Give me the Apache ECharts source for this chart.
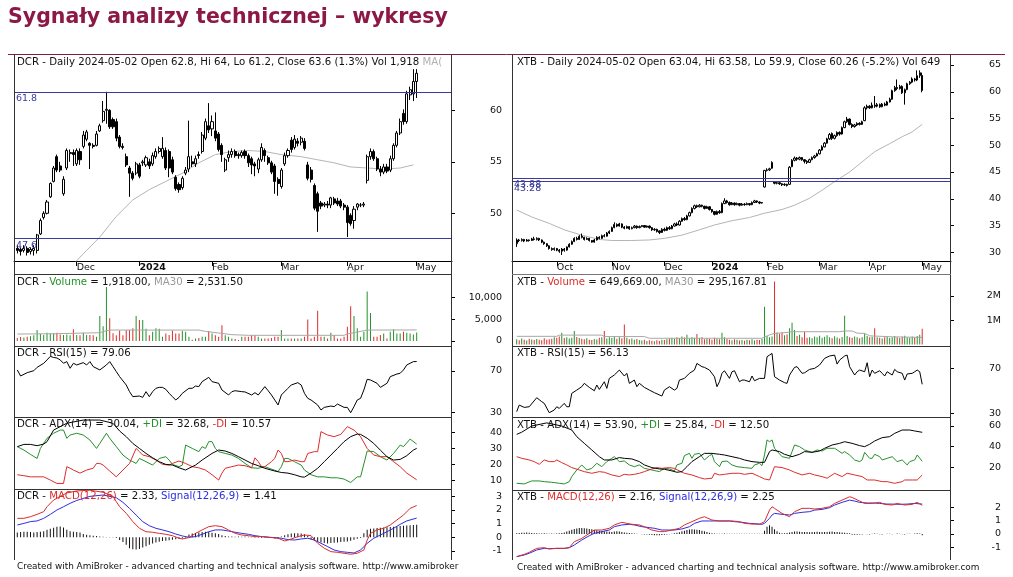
<!DOCTYPE html>
<html>
<head>
<meta charset="utf-8">
<title>Sygnały analizy technicznej – wykresy</title>
<script src="https://cdn.jsdelivr.net/npm/echarts@6.0.0/dist/echarts.min.js"></script>
<style>
html,body{margin:0;padding:0;background:#fff;}
#chart{width:1013px;height:577px;}
</style>
</head>
<body>
<div id="chart"></div>
<script>
// ---------- DCR (left chart) ----------
// candles: [open, close, low, high]
const dcrCandles = [
  [46.6,46.4,46.1,46.9],[46.5,46.3,45.9,46.7],[46.4,46.6,46.2,46.9],[46.6,46.2,45.9,46.8],[46.3,46.5,46.0,46.7],
  [46.4,46.6,45.9,46.9],[46.4,47.9,46.1,48.0],[48.0,49.3,47.9,49.5],[49.6,50.0,49.4,50.2],[50.0,51.1,49.9,51.3],
  [51.6,52.9,51.5,53.0],[53.1,54.4,53.0,54.6],[55.5,54.2,54.0,55.7],[54.6,54.2,54.0,55.0],[51.9,53.3,51.7,53.6],
  [54.4,56.1,54.2,56.3],[55.8,55.9,55.0,56.2],[55.9,55.7,54.6,56.2],[54.8,56.1,54.6,56.3],[56.0,55.2,54.7,56.3],
  [56.5,57.6,56.3,58.0],[57.2,57.9,57.0,58.1],[56.8,56.6,54.3,56.9],[56.6,56.5,56.3,56.8],[56.6,57.7,56.5,58.0],
  [58.0,58.5,57.9,58.7],[59.0,59.9,58.8,60.9],[60.0,60.1,58.7,61.8],[60.0,58.4,58.2,60.1],[59.1,58.4,58.2,59.3],
  [58.9,57.3,57.0,59.2],[57.4,56.5,56.3,57.6],[56.5,56.4,56.2,56.8],[55.5,54.7,54.5,55.8],[54.4,53.9,51.6,54.6],
  [53.9,53.4,53.2,54.1],[53.9,54.8,53.7,55.0],[54.7,53.6,53.4,54.9],[54.9,55.0,54.6,55.2],[54.7,55.4,54.5,55.6],
  [55.0,54.6,54.3,55.3],[54.8,55.6,54.6,55.9],[55.5,56.0,55.3,56.3],[56.0,56.3,55.8,56.5],[55.5,56.3,55.3,57.4],
  [56.1,54.4,54.2,56.4],[56.0,54.4,53.5,56.2],[55.2,54.0,53.8,55.5],[53.5,52.4,52.2,53.7],[52.8,52.3,52.0,53.0],
  [52.5,53.4,52.3,53.6],[53.9,54.2,53.7,54.5],[54.3,55.5,54.0,59.0],[55.0,54.8,54.5,55.6],[54.8,55.3,54.5,55.6],
  [55.7,55.6,55.3,56.0],[56.0,57.6,55.8,57.9],[57.3,58.9,57.1,59.2],[58.5,58.1,57.8,60.7],[58.2,58.9,57.5,59.5],
  [58.0,57.3,57.0,59.8],[57.7,56.2,56.0,57.9],[56.6,55.7,55.0,56.8],[54.2,55.2,54.0,55.4],[55.4,55.7,55.0,56.1],
  [55.7,56.0,55.4,56.3],[56.0,55.6,55.4,56.2],[55.7,55.6,55.3,55.9],[55.6,55.9,55.4,56.1],[56.0,55.6,55.3,56.2],
  [55.6,54.9,54.5,55.8],[55.3,54.7,53.8,55.5],[54.8,54.6,53.6,55.0],[54.3,55.2,53.9,55.4],[55.2,56.4,55.0,56.8],
  [56.1,55.6,55.0,56.3],[55.4,54.9,54.7,55.6],[54.9,54.0,53.8,55.1],[54.6,53.1,51.9,54.8],[53.3,52.9,51.7,53.5],
  [52.6,54.2,52.4,54.4],[54.8,55.6,54.6,55.9],[55.6,56.1,55.4,56.3],[57.1,56.2,55.9,57.4],[56.4,57.2,56.2,57.6],
  [57.0,56.8,56.5,57.3],[56.9,57.3,56.6,57.5],[57.0,56.3,56.1,57.3],[54.7,53.4,53.2,55.0],[54.2,53.3,53.0,54.5],
  [52.7,50.5,50.3,52.9],[51.9,50.2,48.2,52.1],[51.0,50.7,50.4,51.2],[50.8,50.9,50.6,51.1],[50.9,50.8,50.5,51.2],
  [50.8,51.5,50.5,51.6],[51.4,51.0,50.8,51.6],[51.2,50.9,50.7,51.5],[51.2,50.7,50.5,51.4],[50.8,50.6,50.3,51.0],
  [50.6,49.1,47.7,50.8],[49.8,49.0,48.8,50.0],[49.3,50.4,48.5,50.7],[50.6,50.9,50.3,51.0],[50.8,50.8,50.6,51.0],
  [50.8,50.9,50.6,51.1],[53.2,55.5,52.9,55.7],[55.5,56.0,55.2,56.3],[56.0,55.3,55.1,56.2],[55.3,54.3,54.1,55.5],
  [54.3,54.0,53.6,54.6],[54.0,54.5,53.8,54.8],[54.5,54.1,53.9,54.8],[54.2,55.3,54.0,55.6],[55.3,56.6,55.1,56.8],
  [56.6,57.8,56.4,58.0],[57.8,58.9,57.6,59.2],[59.7,58.9,58.6,60.1],[58.9,61.6,58.7,61.9],[61.5,62.0,61.0,62.3],
  [61.6,62.8,60.9,64.0],[62.8,63.6,61.2,64.0]
];
const dcrPriceMa = [[16,44.6],[18,45.4],[21,46.4],[25,47.7],[30,49.7],[35,51.3],[40,52.3],[45,53.1],[50,53.9],[55,54.9],
  [60,55.7],[65,56.0],[70,56.1],[75,56.0],[80,55.7],[86,55.5],[91,55.2],[96,54.9],[101,54.5],[106,54.4],[111,54.3],[116,54.4],[120,54.7]];
const dcrLevels = [61.8, 47.6];
const dcrVolume = [
  700,900,800,1000,1100,1300,2500,1600,1400,1900,
  1700,1800,1900,1500,1400,1500,1300,2700,1400,1300,
  1900,1400,1400,1300,1000,5700,3400,12350,5200,1800,
  1300,2400,1300,2500,2500,2900,5700,4800,4800,2800,
  1300,2100,2900,2800,1000,1700,1400,2400,1700,1700,
  2300,2100,1000,300,600,700,1000,1000,2300,1700,
  1300,1000,3600,1300,1000,600,450,250,1000,1000,
  1000,1300,1300,1000,600,600,600,700,1000,1000,
  2500,600,600,600,600,600,600,1000,4900,600,
  1000,6900,1000,1000,600,1900,1350,600,600,1000,
  3250,7950,5700,2900,1000,2100,11350,6400,1000,1000,
  1350,1700,600,2100,2700,1700,1700,2100,1900,1700,
  1500,1918
];
const dcrVolumeMa = [[0,1590],[10,1650],[25,1890],[27,2350],[28,2500],[55,2500],[57,2200],[65,1450],[70,1300],
  [99,1300],[100,1600],[105,2350],[106,2500],[121,2531.5]];
const dcrRsi = [[0,71.0],[1,65.2],[3,68.4],[5,70.3],[6,73.5],[8,77.4],[9,80.6],[10,84.0],[11,83.0],[12,82.5],[13,80.6],
  [14,77.4],[15,79.0],[16,72.6],[17,77.4],[18,75.8],[20,78.0],[21,75.8],[22,79.0],[23,74.2],[25,71.0],[27,75.8],[28,79.0],
  [29,74.2],[30,69.4],[31,64.6],[33,56.6],[34,50.2],[35,45.4],[37,46.0],[38,44.7],[39,50.2],[40,45.4],[41,50.2],[42,53.4],
  [43,54.3],[44,54.3],[45,52.4],[46,48.6],[47,45.4],[48,42.2],[49,44.7],[50,48.6],[52,53.4],[53,53.4],[54,55.6],[55,55.0],
  [56,59.8],[58,63.9],[59,59.8],[61,58.2],[62,51.8],[64,47.0],[65,50.2],[66,51.1],[68,50.2],[69,49.9],[71,47.0],[72,49.2],
  [73,47.0],[75,55.0],[76,51.1],[77,47.0],[78,42.2],[79,37.4],[80,47.0],[82,53.4],[83,56.6],[85,58.8],[86,56.6],[87,48.6],
  [88,43.8],[89,42.2],[91,37.4],[92,32.6],[93,35.1],[95,36.4],[96,35.8],[97,38.3],[99,35.1],[100,35.1],[101,30.0],[102,35.8],
  [103,42.2],[104,43.8],[105,51.8],[106,62.0],[107,61.4],[109,58.2],[110,54.3],[112,58.2],[113,64.6],[115,67.1],[116,67.8],
  [117,71.0],[118,75.8],[120,79.0],[121,79.06]];
const dcrAdx = [[0,31.1],[2,32.5],[4,32.5],[6,31.7],[8,32.7],[9,34.2],[11,41.4],[15,45.6],[20,47.6],[25,47.6],[29,45.6],
  [31,40.8],[33,37.3],[35,33.1],[37,30.0],[39,26.9],[41,24.2],[43,21.8],[45,20.1],[47,19.7],[49,18.0],[51,16.6],[52,17.7],
  [54,19.7],[56,22.8],[59,26.9],[61,29.0],[63,28.4],[65,26.9],[67,24.9],[69,22.8],[71,20.7],[73,19.3],[75,17.7],[78,16.0],
  [80,15.1],[82,14.7],[84,13.7],[86,12.4],[87,12.2],[89,14.7],[91,17.7],[93,21.8],[95,25.9],[97,30.0],[99,34.2],[101,37.3],
  [103,38.9],[104,38.7],[106,36.3],[108,33.1],[110,28.9],[112,24.9],[114,22.8],[116,23.2],[118,25.5],[120,29.0],[121,30.04]];
const dcrPlusDi = [[0,31.1],[2,29.0],[4,26.3],[6,23.8],[7,30.0],[9,36.3],[11,39.4],[13,41.4],[14,41.4],[15,36.3],[16,38.3],
  [18,39.4],[20,38.3],[22,35.2],[24,30.0],[25,33.1],[27,39.4],[28,36.3],[30,31.1],[32,25.9],[34,22.8],[35,21.8],[36,20.7],
  [37,23.8],[39,21.8],[41,19.7],[43,23.8],[45,24.9],[46,22.8],[47,20.1],[49,18.7],[50,19.7],[51,32.1],[53,30.0],[55,28.0],
  [56,31.1],[57,30.0],[58,34.2],[59,34.2],[60,30.0],[61,28.0],[63,26.9],[65,25.9],[67,23.8],[69,20.7],[71,18.0],[73,17.7],
  [75,18.7],[77,17.2],[79,15.7],[80,18.7],[81,23.8],[82,23.8],[83,22.8],[84,21.8],[85,20.7],[86,19.7],[87,16.6],[89,13.7],
  [91,12.4],[93,12.4],[95,11.8],[97,11.8],[99,11.0],[101,8.9],[103,12.4],[104,12.4],[106,28.4],[108,28.0],[110,24.9],
  [112,22.8],[114,26.9],[116,32.1],[117,31.1],[119,35.8],[121,32.68]];
const dcrMinusDi = [[0,13.7],[2,13.1],[4,12.4],[6,12.4],[8,12.4],[10,10.4],[12,8.3],[14,8.3],[15,18.7],[16,17.7],[17,16.6],
  [19,14.7],[21,16.6],[23,17.7],[24,20.7],[25,20.7],[26,19.7],[28,16.0],[30,12.4],[32,16.6],[34,20.7],[36,30.0],[37,28.0],
  [38,25.9],[40,24.9],[42,22.8],[44,20.1],[46,19.7],[47,20.7],[49,22.2],[51,20.7],[53,18.7],[55,18.0],[57,16.6],[59,13.7],
  [61,10.4],[62,14.7],[63,17.7],[65,18.7],[67,19.7],[69,19.3],[71,18.0],[72,24.2],[73,21.8],[74,18.7],[75,18.7],[77,21.8],
  [78,23.8],[79,29.0],[80,26.9],[81,21.8],[82,21.8],[84,22.8],[86,21.8],[87,21.8],[88,26.9],[90,28.0],[91,28.0],[92,40.4],
  [94,38.3],[96,37.3],[98,38.7],[100,43.5],[102,41.4],[104,37.3],[106,30.0],[108,25.9],[110,24.9],[112,24.9],[114,21.8],
  [116,18.7],[118,14.7],[121,10.57]];
const dcrMacd = [[0,1.39],[2,1.39],[4,1.51],[6,1.68],[8,1.88],[9,2.24],[11,2.73],[13,3.0],[15,3.25],[18,3.4],[22,3.45],
  [26,3.3],[29,3.0],[30,2.61],[31,2.24],[33,1.76],[35,1.15],[37,0.66],[39,0.41],[41,0.37],[43,0.29],[45,0.22],[47,0.12],
  [49,-0.07],[50,-0.12],[52,-0.02],[54,0.29],[56,0.54],[58,0.78],[60,0.85],[62,0.78],[64,0.54],[66,0.29],[68,0.17],[70,0.12],
  [72,0.05],[75,0.05],[77,-0.02],[79,-0.07],[81,-0.27],[83,-0.12],[85,0.05],[87,0.17],[89,0.12],[91,-0.44],[93,-0.8],
  [95,-1.05],[97,-1.1],[99,-1.17],[101,-1.24],[103,-1.17],[105,-0.93],[106,-0.2],[107,0.29],[109,0.54],[111,0.66],[113,0.9],
  [115,1.27],[117,1.63],[119,2.12],[121,2.33]];
const dcrSignal = [[0,0.9],[2,1.02],[4,1.15],[6,1.2],[8,1.39],[10,1.68],[12,2.0],[14,2.24],[16,2.49],[18,2.7],[22,3.0],
  [26,3.1],[30,2.9],[32,2.56],[34,2.12],[36,1.63],[38,1.15],[40,0.85],[42,0.66],[44,0.54],[46,0.41],[48,0.24],[50,0.1],
  [52,0.0],[54,0.05],[56,0.22],[58,0.41],[60,0.54],[62,0.54],[64,0.46],[66,0.37],[68,0.29],[70,0.22],[72,0.12],[74,0.05],
  [76,0.0],[78,-0.02],[80,-0.07],[82,-0.17],[84,-0.2],[86,-0.12],[88,-0.07],[90,-0.2],[92,-0.44],[94,-0.68],[96,-0.93],
  [98,-1.05],[100,-1.1],[102,-1.15],[104,-0.93],[106,-0.44],[108,-0.07],[110,0.17],[112,0.41],[114,0.66],[116,0.95],
  [118,1.2],[121,1.41]];
const dcrHist = [
  0.35,0.38,0.4,0.4,0.38,0.36,0.38,0.4,0.45,
  0.55,0.62,0.7,0.78,0.8,0.72,
  0.55,0.45,0.4,0.38,0.35,
  0.25,0.18,0.15,0.12,0.1,
  0.05,0.04,0.03,0.02,0.02,-0.05,
  -0.2,-0.35,-0.55,
  -0.8,-0.88,-0.9,-0.85,
  -0.75,-0.65,-0.55,-0.45,
  -0.38,-0.32,-0.28,-0.25,-0.22,-0.18,
  -0.15,-0.12,-0.08,-0.04,
  0.2,0.28,0.32,0.36,0.38,0.4,0.38,0.34,0.3,0.25,
  0.15,0.1,0.06,0.05,0.04,0.05,0.04,0.05,0.04,0.03,
  -0.03,-0.04,-0.05,-0.04,-0.05,-0.06,-0.08,-0.1,
  0.05,0.15,0.22,0.28,0.3,0.3,0.28,0.22,0.1,
  -0.15,-0.25,-0.32,-0.38,-0.42,-0.45,-0.42,-0.4,-0.38,-0.35,-0.32,-0.3,-0.25,-0.18,
  -0.1,-0.05,
  0.3,0.55,0.62,0.65,0.68,0.7,0.72,0.74,0.76,0.78,0.8,0.82,0.84,0.86,0.88,0.9,0.92
];
const dcrMonthTicks = [18, 37, 59, 80, 100, 121];
const dcrMonthLabels = ['Dec', '2024', 'Feb', 'Mar', 'Apr', 'May'];
const dcrPriceTicks = [50, 55, 60];
const dcrVolumeTicks = [0, 5000, 10000];
const dcrRsiTicks = [30, 70];
const dcrAdxTicks = [10, 20, 30, 40];
const dcrMacdTicks = [-1, 0, 1, 2, 3];

// ---------- XTB (right chart) ----------
const xtbCandles = [
  [31.6,32.3,31.0,32.6],[32.3,32.2,31.9,32.5],[32.2,32.4,32.0,32.6],[32.4,32.1,31.9,32.5],[32.1,32.3,32.0,32.5],
  [32.3,32.2,32.0,32.4],[32.2,32.5,32.1,32.7],[32.5,32.4,32.2,32.9],[32.4,32.6,32.2,32.8],[32.6,32.3,32.1,32.7],
  [32.3,31.9,31.7,32.4],[31.9,31.6,31.4,32.0],[31.6,31.2,31.0,31.7],[31.2,30.7,30.5,31.3],[30.7,30.5,30.3,30.9],
  [30.5,30.7,30.3,30.9],[30.7,30.4,30.2,30.8],[30.4,30.2,29.9,30.6],[30.2,30.6,29.5,30.8],[30.6,30.4,30.1,30.8],
  [30.4,31.0,30.3,31.1],[31.0,31.5,30.9,31.7],[31.5,32.0,31.4,32.2],[32.0,32.6,31.9,32.8],[32.6,32.4,32.2,32.9],
  [32.4,33.0,32.3,33.2],[33.0,32.8,32.6,33.5],[32.8,32.4,32.2,32.9],[32.4,32.6,32.3,32.8],[32.6,32.2,32.0,32.7],
  [32.2,31.9,31.8,32.3],[31.9,32.3,31.8,32.5],[32.3,32.8,32.2,33.0],[32.8,32.6,32.4,33.0],[32.6,33.1,32.5,33.3],
  [33.1,33.0,32.8,33.4],[33.0,33.6,32.9,33.8],[33.6,33.9,33.4,34.1],[33.9,34.6,33.8,34.8],[34.6,35.2,34.5,35.6],
  [35.2,34.9,34.7,35.4],[34.9,35.3,34.8,35.5],[35.3,34.7,34.5,35.4],[34.7,34.5,34.3,34.9],[34.5,34.8,34.4,35.0],
  [34.8,34.4,34.2,34.9],[34.4,34.6,34.3,34.8],[34.6,34.9,34.5,35.1],[34.9,34.6,34.4,35.0],[34.6,34.8,34.5,35.0],
  [34.8,35.0,34.7,35.1],[35.0,34.7,34.6,35.1],[34.7,34.9,34.6,35.0],[34.9,34.6,34.4,35.0],[34.6,34.2,34.0,34.7],
  [34.2,34.3,34.0,34.5],[34.3,33.9,33.7,34.4],[34.0,33.7,33.4,34.1],[33.7,34.3,33.6,34.5],[34.3,34.1,33.9,34.6],
  [34.1,34.6,34.0,34.8],[34.6,34.4,34.2,34.9],[34.4,34.9,34.3,35.1],[34.9,35.3,34.8,35.5],[35.3,35.1,34.9,35.6],
  [35.1,35.8,35.0,36.0],[35.8,36.3,35.7,36.5],[36.3,36.1,35.9,36.6],[36.1,36.8,36.0,37.0],[36.8,37.4,36.7,37.6],
  [37.4,38.2,37.3,38.4],[38.2,38.7,38.0,38.9],[38.7,38.5,38.3,38.9],[38.5,38.8,38.4,39.0],[38.8,38.6,38.4,38.9],
  [38.6,38.2,38.0,38.7],[38.2,38.5,38.1,38.7],[38.5,38.0,37.8,38.6],[38.0,37.6,37.4,38.1],[37.6,37.1,36.9,37.7],
  [37.1,37.6,37.0,37.8],[37.6,37.4,37.2,37.9],[37.4,39.1,37.3,39.3],[39.1,39.6,39.0,40.1],[39.6,39.3,39.1,39.8],
  [39.3,38.9,38.7,39.5],[38.9,39.2,38.8,39.4],[39.2,38.9,38.7,39.3],[38.9,39.1,38.8,39.3],[39.1,38.8,38.6,39.2],
  [38.8,39.0,38.7,39.2],[39.0,38.9,38.7,39.2],[38.9,39.1,38.8,39.3],[39.1,38.9,38.7,39.2],[38.9,39.3,38.8,39.5],
  [39.3,39.6,39.2,39.8],[39.6,39.4,39.2,39.7],[39.4,39.2,39.0,39.5],[39.2,39.3,39.1,39.4],[42.2,45.3,42.1,45.4],
  [45.3,45.4,45.1,45.7],[45.4,45.6,45.2,45.8],[45.7,46.8,45.6,47.0],[43.1,42.9,42.7,43.3],[42.9,43.0,42.7,43.2],
  [43.0,42.8,42.6,43.1],[42.8,42.6,42.4,42.9],[42.6,42.7,42.4,42.9],[42.7,42.5,42.3,42.8],[42.7,45.9,42.6,46.1],
  [46.0,47.2,45.9,47.4],[47.2,47.6,47.0,47.9],[47.6,47.4,47.1,47.8],[47.4,47.7,47.2,47.9],[47.7,47.3,47.1,47.8],
  [47.3,47.0,46.6,47.4],[47.0,46.8,46.5,47.2],[46.8,47.3,46.7,47.5],[47.3,47.7,47.2,47.9],[47.7,48.0,47.5,48.2],
  [48.0,48.4,47.9,48.6],[48.4,49.1,48.3,49.3],[49.1,49.7,49.0,50.0],[49.7,50.4,49.6,50.6],[50.4,51.2,50.3,51.4],
  [51.2,52.0,51.0,52.3],[52.2,51.3,51.0,52.4],[51.3,51.8,51.1,52.0],[51.8,52.4,51.6,52.6],[52.4,52.1,51.8,52.6],
  [52.1,53.3,52.0,53.5],[53.3,54.4,53.2,54.6],[54.4,54.9,54.2,55.3],[54.9,53.9,53.7,55.0],[53.9,53.5,53.2,54.1],
  [53.5,53.8,53.3,54.0],[53.8,54.1,53.6,54.3],[54.1,53.9,53.7,54.3],[53.9,54.4,53.8,54.6],[54.6,57.0,54.5,57.3],
  [57.0,57.3,56.7,57.6],[57.3,57.0,56.8,57.5],[57.0,57.5,56.9,58.0],[57.5,57.3,57.0,59.2],[57.3,57.6,57.1,57.9],
  [57.6,57.2,57.0,57.8],[57.2,57.7,57.1,57.9],[57.7,57.5,57.3,58.0],[57.5,58.1,57.4,58.3],[58.1,58.6,58.0,58.9],
  [58.6,60.2,58.5,60.4],[60.2,60.8,60.0,61.1],[60.8,60.6,60.3,62.3],[60.6,61.0,60.4,61.3],[61.0,59.8,59.6,61.2],
  [59.8,60.4,57.6,60.6],[60.4,61.5,60.3,61.7],[61.5,61.8,61.3,62.0],[61.8,62.4,61.6,62.7],[62.4,62.2,61.9,62.6],
  [62.2,63.0,62.0,64.0],[63.0,63.57,62.6,64.0],[63.04,60.26,59.9,63.58]
];
const xtbPriceMa = [[0,37.9],[6,36.6],[13,35.4],[19,34.2],[26,33.2],[33,32.4],[38,32.2],[46,32.2],[53,32.3],[59,32.6],
  [66,33.2],[73,34.2],[79,35.1],[86,35.9],[93,36.5],[99,37.3],[106,38.0],[111,38.8],[117,40.1],[122,41.6],[127,43.2],
  [133,45.0],[138,46.9],[143,48.8],[149,50.3],[154,51.6],[158,52.5],[162,53.9]];
const xtbLevels = [43.88, 43.28];
// volume in millions of shares
const xtbVolume = [
  0.22,0.18,0.25,0.2,0.17,0.24,0.21,0.19,0.23,0.2,
  0.18,0.26,0.2,0.22,0.24,0.3,0.28,0.33,0.49,0.27,
  0.3,0.25,0.28,0.56,0.31,0.27,0.24,0.22,0.26,0.2,
  0.19,0.23,0.21,0.28,0.3,0.56,0.25,0.3,0.27,0.32,
  0.24,0.3,0.26,0.83,0.28,0.22,0.25,0.2,0.23,0.19,
  0.17,0.2,0.15,0.18,0.16,0.14,0.18,0.15,0.2,0.19,
  0.22,0.25,0.28,0.24,0.3,0.27,0.33,0.29,0.4,0.25,
  0.3,0.28,0.44,0.27,0.3,0.22,0.26,0.24,0.2,0.28,
  0.25,0.22,0.49,0.3,0.23,0.2,0.18,0.22,0.2,0.17,
  0.19,0.16,0.2,0.18,0.22,0.17,0.2,0.19,0.23,1.56,
  0.35,0.3,0.33,2.6,0.5,0.45,0.5,0.38,0.42,0.67,
  0.9,0.6,0.35,0.4,0.3,0.52,0.28,0.3,0.26,0.33,
  0.3,0.36,0.28,0.32,0.38,0.3,0.26,0.34,0.29,0.25,
  0.31,1.19,0.35,0.3,0.28,0.33,0.3,0.26,0.3,0.46,
  0.35,0.3,0.32,0.67,0.3,0.28,0.25,0.3,0.32,0.27,
  0.3,0.35,0.3,0.27,0.32,0.36,0.3,0.28,0.33,0.3,
  0.35,0.4,0.65
];
const xtbVolumeMa = [[0,0.34],[16,0.34],[17,0.39],[34,0.39],[35,0.33],[51,0.33],[53,0.26],[98,0.26],[99,0.31],[101,0.4],
  [103,0.46],[108,0.5],[110,0.53],[129,0.53],[131,0.56],[134,0.56],[136,0.47],[139,0.46],[141,0.36],[150,0.32],[162,0.295]];
const xtbRsi = [[0,31.8],[1,37.7],[3,35.6],[5,36.2],[8,44.2],[10,40.7],[11,39.2],[13,30.9],[15,33.3],[16,36.2],[17,34.7],
  [19,39.2],[20,36.2],[21,36.2],[22,48.1],[24,51.0],[26,54.0],[27,57.0],[29,53.4],[31,50.4],[32,55.5],[33,51.6],[35,58.4],
  [36,52.5],[37,61.4],[39,64.4],[41,68.8],[43,63.5],[44,65.9],[45,57.0],[47,59.9],[48,54.0],[49,57.0],[51,53.4],[53,51.0],
  [55,48.7],[58,45.7],[59,51.0],[61,54.0],[63,51.0],[64,52.5],[65,59.9],[67,61.4],[69,65.9],[71,68.8],[72,74.7],[74,71.8],
  [75,71.2],[77,68.8],[79,62.9],[80,54.0],[81,58.4],[82,65.9],[83,68.2],[85,61.4],[86,67.3],[87,68.2],[89,58.4],[90,59.9],
  [91,59.9],[93,58.4],[94,63.5],[95,59.3],[97,61.4],[99,61.4],[100,80.7],[101,82.1],[102,83.6],[103,62.9],[105,59.9],
  [107,57.6],[108,57.0],[109,64.4],[111,71.2],[112,71.8],[114,65.9],[115,66.4],[117,69.4],[119,70.3],[121,73.3],[123,79.2],
  [125,81.3],[127,82.1],[128,74.1],[129,77.7],[131,81.3],[132,82.1],[133,71.8],[135,64.4],[136,67.3],[137,68.8],[139,67.3],
  [140,75.3],[141,62.9],[142,68.8],[143,65.9],[145,68.2],[146,65.9],[147,63.5],[148,67.3],[150,64.4],[151,69.4],[152,67.3],
  [154,65.9],[155,59.9],[156,65.3],[158,65.9],[159,67.3],[160,68.8],[161,67.3],[162,56.13]];
const xtbAdx = [[0,51.9],[2,54],[6,60],[12,63],[18,60],[22,56.1],[24,49.7],[27,43.2],[30,36.8],[33,30.3],[35,27.1],[38,27.1],
  [41,29.4],[43,28.7],[46,28.1],[49,25.5],[51,22.3],[54,19.7],[57,18.4],[59,18.1],[62,16.5],[64,15.2],[66,15.8],[68,20.6],
  [70,25.5],[73,30.3],[75,33.5],[78,33.5],[81,32.6],[83,31.9],[86,30.3],[89,28.7],[91,27.1],[94,25.5],[97,24.8],[99,24.8],
  [101,35.2],[102,36.8],[105,35.2],[107,32.6],[110,30.3],[113,32.6],[115,35.2],[118,34.5],[121,35.8],[123,38.4],[126,41.6],
  [129,43.2],[131,44.8],[134,43.2],[137,41.0],[139,40.0],[141,42.3],[143,45.5],[146,48.7],[149,49.7],[151,52.9],[154,56.1],
  [157,56.1],[159,55.2],[162,53.9]];
const xtbPlusDi = [[0,4.5],[3,3.9],[6,6.8],[9,6.8],[11,6.1],[14,5.5],[17,4.5],[19,3.9],[21,6.1],[22,11.0],[24,17.4],[26,22.3],
  [28,17.4],[30,19.0],[32,23.9],[34,20.6],[36,25.5],[38,28.7],[39,30.3],[41,25.5],[43,26.1],[45,22.3],[47,20.6],[49,22.3],
  [51,19.0],[54,17.4],[57,15.8],[59,19.0],[61,18.4],[63,16.5],[64,22.3],[66,23.9],[67,31.3],[69,33.5],[70,28.7],[71,32.6],
  [73,33.5],[74,30.3],[75,27.1],[77,31.3],[78,32.6],[79,25.5],[81,20.6],[82,25.5],[84,26.1],[86,22.3],[88,20.6],[91,19.7],
  [94,19.0],[95,22.3],[97,23.9],[98,21.6],[99,31.9],[100,46.5],[101,44.8],[102,46.5],[103,38.4],[106,30.3],[109,28.7],
  [110,35.2],[111,41.6],[113,40.0],[115,36.8],[118,34.5],[120,36.8],[122,35.8],[124,38.4],[127,38.4],[128,36.8],[130,33.5],
  [131,35.2],[133,31.9],[135,27.1],[137,25.5],[138,27.1],[139,34.5],[141,28.7],[142,28.7],[143,32.6],[145,30.3],[146,27.1],
  [148,28.7],[150,30.3],[152,25.5],[154,27.1],[156,22.3],[157,25.5],[159,27.1],[160,31.9],[162,25.84]];
const xtbMinusDi = [[0,30.3],[2,28.7],[5,27.1],[7,25.5],[9,22.9],[11,27.1],[13,25.5],[15,25.5],[16,27.1],[18,24.5],[20,22.3],
  [22,19.7],[25,17.4],[27,15.8],[30,14.2],[33,15.8],[35,15.2],[38,12.6],[41,11.0],[43,13.2],[45,12.6],[47,13.2],[49,14.2],
  [51,15.8],[54,18.4],[56,19.7],[58,19.0],[61,19.7],[63,19.0],[65,16.5],[67,14.2],[70,12.6],[73,10.0],[75,8.7],[78,9.4],
  [79,14.2],[81,12.6],[83,13.2],[86,14.2],[89,14.2],[91,13.2],[94,14.2],[97,11.0],[99,8.7],[101,7.7],[103,20.6],[106,19.7],
  [109,17.4],[111,15.2],[114,12.6],[117,14.2],[119,12.6],[122,11.0],[124,9.4],[127,14.2],[130,11.0],[132,14.2],[135,12.6],
  [138,11.0],[140,7.7],[143,7.7],[146,6.1],[148,6.1],[151,4.5],[154,6.1],[155,7.7],[158,7.7],[160,7.7],[162,12.5]];
const xtbMacd = [[0,-1.7],[3,-1.53],[5,-1.38],[8,-1.08],[11,-1.03],[13,-1.13],[16,-1.08],[19,-1.08],[21,-1.03],[23,-0.58],
  [26,-0.33],[29,0.05],[31,0.3],[34,0.3],[37,0.43],[39,0.68],[42,0.88],[44,0.8],[46,0.73],[49,0.68],[51,0.55],[54,0.3],
  [57,0.18],[59,0.18],[62,0.3],[65,0.43],[67,0.68],[70,0.93],[73,1.18],[75,1.3],[78,1.05],[81,0.98],[83,0.98],[86,0.98],
  [89,0.93],[91,0.8],[94,0.75],[97,0.73],[99,0.93],[101,1.8],[102,2.05],[103,1.93],[106,1.55],[109,1.3],[111,1.68],
  [114,1.93],[117,1.93],[119,1.88],[122,1.93],[125,2.05],[127,2.3],[130,2.55],[133,2.8],[134,2.75],[137,2.48],[139,2.3],
  [142,2.3],[145,2.38],[147,2.23],[150,2.18],[152,2.3],[155,2.18],[158,2.23],[160,2.38],[162,2.16]];
const xtbSignal = [[0,-1.7],[3,-1.58],[5,-1.45],[8,-1.2],[11,-1.08],[13,-1.1],[16,-1.08],[19,-1.08],[21,-1.03],[23,-0.83],
  [26,-0.45],[29,-0.13],[31,0.05],[34,0.18],[37,0.3],[39,0.55],[42,0.68],[45,0.73],[47,0.68],[50,0.55],[53,0.48],[55,0.43],
  [58,0.3],[61,0.3],[63,0.3],[66,0.38],[69,0.55],[71,0.8],[74,0.98],[77,0.98],[79,0.98],[82,0.98],[85,0.98],[87,0.93],
  [90,0.88],[93,0.8],[95,0.78],[98,0.73],[99,0.8],[101,1.18],[102,1.43],[103,1.55],[106,1.48],[109,1.43],[111,1.55],
  [114,1.63],[117,1.68],[119,1.8],[122,1.85],[125,1.98],[127,2.18],[130,2.38],[133,2.55],[135,2.48],[137,2.38],[140,2.33],
  [143,2.33],[145,2.3],[148,2.25],[150,2.25],[153,2.23],[156,2.25],[159,2.3],[162,2.25]];
const xtbHist = [
  0.06,0.08,0.1,0.1,0.12,0.1,0.08,0.06,0.05,0.04,0.03,0.05,0.03,0.02,0.04,0.02,0.03,0.05,0.08,0.12,0.18,0.25,
  0.32,0.38,0.42,0.45,0.45,0.44,0.42,0.38,0.35,0.3,0.28,0.25,0.22,
  0.2,0.18,0.17,0.16,0.18,0.2,0.18,0.15,0.12,0.1,0.08,0.05,
  0.03,0.02,0.0,-0.02,-0.03,-0.04,
  -0.06,-0.08,-0.1,-0.1,-0.09,-0.08,-0.06,-0.04,-0.02,0.02,0.06,0.1,0.14,
  0.2,0.25,0.3,0.33,0.35,0.34,0.32,0.3,0.25,0.2,0.15,0.1,0.06,
  0.03,0.02,0.01,0.02,0.03,0.02,0.01,0.02,0.01,0.02,0.01,0.02,0.01,0.02,0.01,0.02,0.01,0.02,0.01,0.02,
  0.25,0.55,0.65,0.55,0.35,0.2,
  0.1,0.06,0.05,0.08,
  0.12,0.15,0.18,0.18,0.17,0.16,0.15,0.15,0.14,0.15,0.16,0.17,0.16,0.15,0.15,0.16,0.17,0.18,0.16,0.15,0.14,0.12,0.1,0.08,0.05,
  -0.05,-0.06,-0.05,-0.04,-0.03,0.0,-0.02,-0.03,0.02,0.03,0.01,-0.02,-0.03,0.0,0.02,0.01,-0.02,0.0,0.03,0.02,-0.01,-0.03,0.01,0.02,0.0,0.03,0.05,0.04,-0.09
];
const xtbMonthTicks = [16, 38, 59, 78, 100, 121, 141, 162];
const xtbMonthLabels = ['Oct', 'Nov', 'Dec', '2024', 'Feb', 'Mar', 'Apr', 'May'];
const xtbPriceTicks = [30, 35, 40, 45, 50, 55, 60, 65];
const xtbVolumeTicks = [1, 2];
const xtbRsiTicks = [30, 70];
const xtbAdxTicks = [20, 40, 60];
const xtbMacdTicks = [-1, 0, 1, 2];

// ---------- chart ----------
const FONT = '"DejaVu Sans", Verdana, sans-serif';
const GREEN = '#23912a';
const RED = '#dd2c2c';
const BLUE = '#2d2de0';
const LEVEL = '#3a3a9c';
const TXT = '#111';
const TITLE_SIZE = 10.2;
const FOOT_SIZE = 8.9;

const grids = [], xAxes = [], yAxes = [], series = [];

function addPanel(left, width, xMin, xMax, top, height, yMin, yMax, ticks, fmt, months) {
  const gi = grids.length;
  grids.push({ left: left, top: top, width: width, height: height });
  const xa = { type: 'value', gridIndex: gi, min: xMin, max: xMax, splitLine: { show: false },
    axisLine: { show: false, onZero: false } };
  if (months) {
    xa.axisLine = { show: true, onZero: false, lineStyle: { color: '#000', width: 1 } };
    xa.axisTick = { show: true, customValues: months.ticks, length: 5, lineStyle: { color: '#000' } };
    xa.axisLabel = {
      show: true, customValues: months.ticks, align: 'left', margin: 2,
      fontSize: 9.5, fontFamily: FONT, color: TXT,
      formatter: function (v) {
        const t = months.labels[months.ticks.indexOf(Math.round(v))] || '';
        return /^\d{4}$/.test(t) ? '{b|' + t + '}' : t;
      },
      rich: { b: { fontWeight: 'bold', fontSize: 9.5, fontFamily: FONT, color: TXT } }
    };
  } else {
    xa.show = false;
  }
  xAxes.push(xa);
  yAxes.push({
    type: 'value', gridIndex: gi, min: yMin, max: yMax, position: 'right',
    axisLine: { show: false, onZero: false }, splitLine: { show: false },
    axisTick: { show: true, customValues: ticks, length: 3, lineStyle: { color: '#000' } },
    axisLabel: { show: true, customValues: ticks, align: 'right', margin: 50, fontSize: 9.5,
      fontFamily: FONT, color: TXT, formatter: fmt || (v => String(v)) }
  });
  return gi;
}

function line(gi, data, color, z) {
  return { type: 'line', xAxisIndex: gi, yAxisIndex: gi, data: data, showSymbol: false, symbol: 'none',
    lineStyle: { color: color, width: 1 }, itemStyle: { color: color }, z: z || 3, silent: true };
}

function candles(gi, rows, levels, bw) {
  return {
    type: 'candlestick', xAxisIndex: gi, yAxisIndex: gi, barWidth: bw, z: 4,
    data: rows.map((d, i) => [i, d[0], d[1], d[2], d[3]]),
    encode: { x: 0, y: [1, 2, 3, 4] },
    itemStyle: { color: '#fff', color0: '#000', borderColor: '#000', borderColor0: '#000', borderWidth: 1 },
    markLine: {
      silent: true, symbol: ['none', 'none'],
      lineStyle: { color: LEVEL, width: 1, type: 'solid' },
      label: { position: 'insideStartBottom', formatter: p => String(p.value), color: LEVEL,
        fontSize: 9.5, fontFamily: FONT, distance: 2 },
      data: levels.map(v => ({ yAxis: v }))
    }
  };
}

function volBars(gi, vols, rows) {
  return { type: 'bar', xAxisIndex: gi, yAxisIndex: gi, barWidth: 1, z: 2, silent: true,
    data: vols.map((v, i) => ({ value: [i, v], itemStyle: { color: rows[i][1] >= rows[i][0] ? GREEN : RED } })) };
}

function histBars(gi, vals) {
  return { type: 'bar', xAxisIndex: gi, yAxisIndex: gi, barWidth: 1, z: 2, silent: true,
    itemStyle: { color: '#111' }, data: vals.map((v, i) => [i, v]) };
}

// left chart panels
const LX = 14, LW = 438, LMIN = -1.0, LMAX = 131.7;
let g = addPanel(LX, LW, LMIN, LMAX, 54, 207, 45.37, 65.47, dcrPriceTicks, null, { ticks: dcrMonthTicks, labels: dcrMonthLabels });
series.push(line(g, dcrPriceMa, '#b5b5b5', 1), candles(g, dcrCandles, dcrLevels, 2.6));
g = addPanel(LX, LW, LMIN, LMAX, 274, 72, -1144, 15332, dcrVolumeTicks, v => v.toLocaleString('en-US'));
series.push(volBars(g, dcrVolume, dcrCandles), line(g, dcrVolumeMa, '#a8a8a8'));
g = addPanel(LX, LW, LMIN, LMAX, 346, 71, 25.88, 93.98, dcrRsiTicks);
series.push(line(g, dcrRsi, '#000'));
g = addPanel(LX, LW, LMIN, LMAX, 417, 72, 4.86, 49.48, dcrAdxTicks);
series.push(line(g, dcrPlusDi, GREEN), line(g, dcrMinusDi, RED), line(g, dcrAdx, '#000'));
g = addPanel(LX, LW, LMIN, LMAX, 489, 70, -1.59, 3.54, dcrMacdTicks);
series.push(histBars(g, dcrHist), line(g, dcrSignal, BLUE), line(g, dcrMacd, RED));

// right chart panels
const RX = 512, RW = 439, RMIN = -1.88, RMAX = 173.5;
g = addPanel(RX, RW, RMIN, RMAX, 54, 207, 28.37, 67.06, xtbPriceTicks, null, { ticks: xtbMonthTicks, labels: xtbMonthLabels });
series.push(line(g, xtbPriceMa, '#b5b5b5', 1), candles(g, xtbCandles, xtbLevels, 1.8));
g = addPanel(RX, RW, RMIN, RMAX, 274, 72, -0.058, 2.905, xtbVolumeTicks, v => v + 'M');
series.push(volBars(g, xtbVolume, xtbCandles), line(g, xtbVolumeMa, '#a8a8a8'));
g = addPanel(RX, RW, RMIN, RMAX, 346, 71, 27.07, 90.18, xtbRsiTicks);
series.push(line(g, xtbRsi, '#000'));
g = addPanel(RX, RW, RMIN, RMAX, 417, 73, -1.99, 68.72, xtbAdxTicks);
series.push(line(g, xtbPlusDi, GREEN), line(g, xtbMinusDi, RED), line(g, xtbAdx, '#000'));
g = addPanel(RX, RW, RMIN, RMAX, 490, 69, -1.88, 3.31, xtbMacdTicks);
series.push(histBars(g, xtbHist), line(g, xtbSignal, BLUE), line(g, xtbMacd, RED));

// texts
function richText(x, y, parts, size) {
  const sz = size || TITLE_SIZE;
  const rich = {};
  let s = '';
  parts.forEach((p, i) => {
    rich['t' + i] = { fill: p[1] || TXT, fontSize: sz, fontFamily: FONT };
    s += '{t' + i + '|' + p[0] + '}';
  });
  return { type: 'text', x: x, y: y, z: 100, silent: true,
    style: { text: s, rich: rich, fontSize: sz, fontFamily: FONT, fill: TXT, verticalAlign: 'middle', align: 'left' } };
}
function hLine(x1, x2, y, color) {
  return { type: 'line', silent: true, z: 50, shape: { x1: x1, y1: y, x2: x2, y2: y }, style: { stroke: color || '#333', lineWidth: 1 } };
}
function vLine(x, y1, y2, color) {
  return { type: 'line', silent: true, z: 50, shape: { x1: x, y1: y1, x2: x, y2: y2 }, style: { stroke: color || '#333', lineWidth: 1 } };
}

const GRAY = '#9a9a9a';
const graphics = [
  { type: 'text', x: 8, y: 18, z: 100, silent: true,
    style: { text: 'Sygnały analizy technicznej – wykresy', fontSize: 20.5, fontWeight: 'bold', fontFamily: FONT,
      fill: '#8c1846', verticalAlign: 'middle' } },
  // frames
  vLine(14.5, 54, 560), vLine(451.5, 54, 560),
  hLine(14, 452, 274.5), hLine(14, 452, 346.5), hLine(14, 452, 417.5), hLine(14, 452, 489.5),
  vLine(512.5, 54, 560), vLine(950.5, 54, 560),
  hLine(512, 951, 274.5, '#777'), hLine(512, 951, 346.5), hLine(512, 951, 417.5), hLine(512, 951, 490.5),
  hLine(8, 1005, 54.5, '#8c1846'),
  // left titles
  richText(17, 62, [['DCR - Daily 2024-05-02 Open 62.8, Hi 64, Lo 61.2, Close 63.6 (1.3%) Vol 1,918 '], ['MA(', '#b0b0b0']]),
  richText(17, 282, [['DCR - '], ['Volume', GREEN], [' = 1,918.00, '], ['MA30', GRAY], [' = 2,531.50']]),
  richText(17, 353, [['DCR - RSI(15) = 79.06']]),
  richText(17, 424.5, [['DCR - ADX(14) = 30.04, '], ['+DI', GREEN], [' = 32.68, '], ['-DI', RED], [' = 10.57']]),
  richText(17, 496, [['DCR - '], ['MACD(12,26)', RED], [' = 2.33, '], ['Signal(12,26,9)', BLUE], [' = 1.41']]),
  richText(17, 567, [['Created with AmiBroker - advanced charting and technical analysis software. http://www.amibroker']], FOOT_SIZE),
  // right titles
  richText(517, 62, [['XTB - Daily 2024-05-02 Open 63.04, Hi 63.58, Lo 59.9, Close 60.26 (-5.2%) Vol 649']]),
  richText(517, 282.5, [['XTB - '], ['Volume', RED], [' = 649,669.00, '], ['MA30', GRAY], [' = 295,167.81']]),
  richText(517, 353, [['XTB - RSI(15) = 56.13']]),
  richText(517, 425.5, [['XTB - ADX(14) = 53.90, '], ['+DI', GREEN], [' = 25.84, '], ['-DI', RED], [' = 12.50']]),
  richText(517, 497, [['XTB - '], ['MACD(12,26)', RED], [' = 2.16, '], ['Signal(12,26,9)', BLUE], [' = 2.25']]),
  richText(517, 568, [['Created with AmiBroker - advanced charting and technical analysis software. http://www.amibroker.com']], FOOT_SIZE)
];

const chart = echarts.init(document.getElementById('chart'));
chart.setOption({
  animation: false,
  backgroundColor: '#fff',
  grid: grids,
  xAxis: xAxes,
  yAxis: yAxes,
  series: series,
  graphic: graphics
});
</script>
</body>
</html>
